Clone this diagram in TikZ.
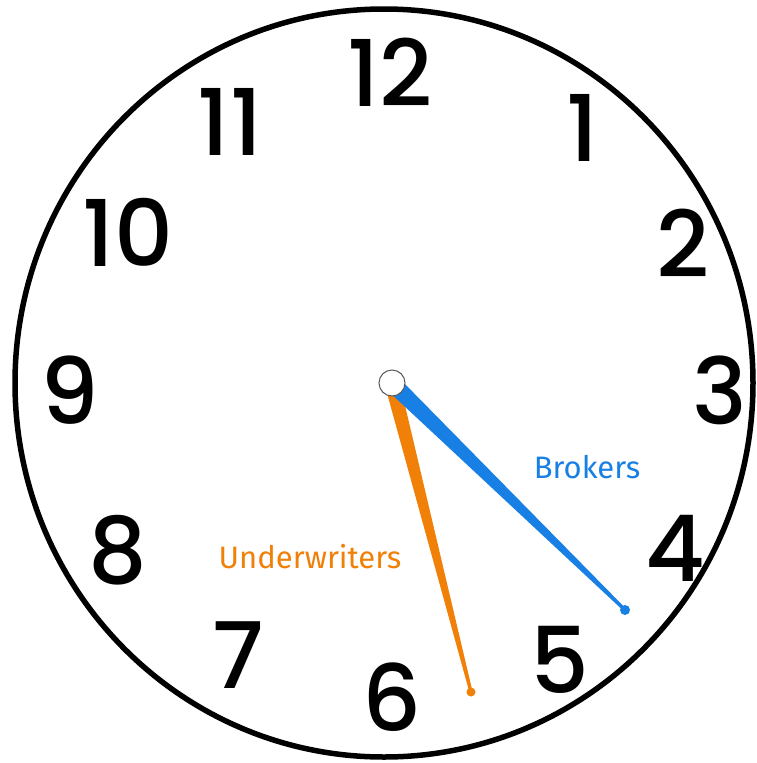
\documentclass[tikz,border=0pt]{standalone}
\usepackage{fontspec}
\setmainfont{Poppins}[UprightFont=* Medium]
\newfontfamily\labelfont{Fira Sans}
\usetikzlibrary{calc}
\definecolor{brokerblue}{RGB}{24,128,228}
\definecolor{underorange}{RGB}{240,128,8}
\tikzset{
  digit/.style={font=\fontsize{92}{92}\selectfont, inner sep=0pt},
  handlabel/.style={font=\labelfont\fontsize{31}{31}\selectfont, inner sep=0pt},
  hub/.style={circle, draw=gray!70!black, line width=1pt, fill=white, minimum size=26pt, inner sep=0pt}
}
\begin{document}
\begin{tikzpicture}[x=1pt,y=-1pt]
\useasboundingbox (0,0) rectangle (757,763);
\fill[white] (0,0) rectangle (757,763);
% dial
\draw[line width=5.5pt] (384,383) ellipse [x radius=369, y radius=374];
% numbers
\node[digit] (n12) at (390,72) {12};
\node[digit] (n1) at (583,128) {1};
\node[digit] (n2) at (683,243) {2};
\node[digit] (n3) at (720,390) {3};
\node[digit] (n4) at (675,548) {4};
\node[digit] (n5) at (560,660) {5};
\node[digit] (n6) at (392,697) {6};
\node[digit] (n7) at (238,655) {7};
\node[digit] (n8) at (118,550) {8};
\node[digit] (n9) at (70,390) {9};
\node[digit] (n10) at (128,232) {10};
\node[digit] (n11) at (230,122) {11};
% hands
\coordinate (H) at (392,383);
\coordinate (B) at (625,610);
\coordinate (U) at (471,692);
\fill[underorange] ($(H)!7.5pt!90:(U)$) -- ($(U)!1.6pt!-90:(H)$) -- ($(U)!1.6pt!90:(H)$) -- ($(H)!7.5pt!-90:(U)$) -- cycle;
\fill[underorange] (U) circle (4.5pt);
\fill[brokerblue] ($(H)!8.5pt!90:(B)$) -- ($(B)!1.6pt!-90:(H)$) -- ($(B)!1.6pt!90:(H)$) -- ($(H)!8.5pt!-90:(B)$) -- cycle;
\fill[brokerblue] (B) circle (5pt);
\node[hub] (hub) at (H) {};
% labels
\node[handlabel, text=brokerblue] (brokers) at (587,467) {Brokers};
\node[handlabel, text=underorange] (under) at (310,557) {Underwriters};
\end{tikzpicture}
\end{document}
